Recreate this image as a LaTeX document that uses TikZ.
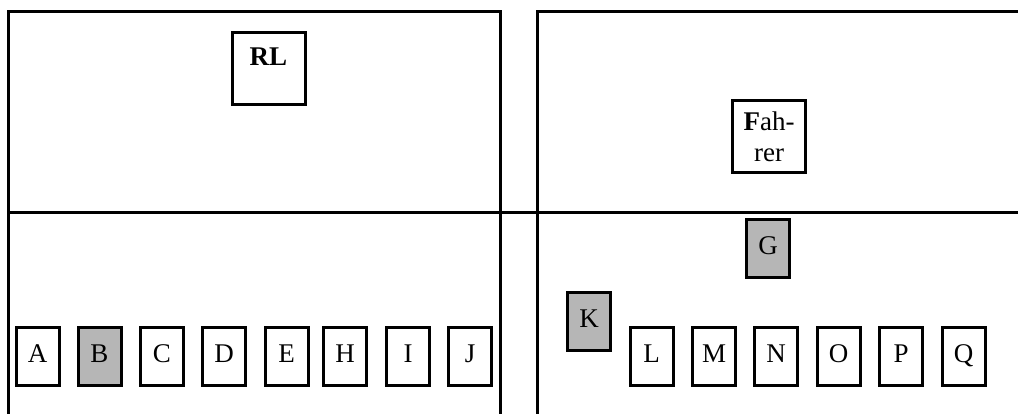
\documentclass[tikz,border=0pt]{standalone}
\usepackage{fontspec}
\setmainfont{Liberation Serif}
\definecolor{boxgrey}{RGB}{182,182,182}
\begin{document}
\begin{tikzpicture}[x=1pt,y=-1pt,
  frame/.style={line width=3pt},
  letterbox/.style={draw, line width=3pt, rectangle, inner sep=0pt,
    minimum width=43pt, minimum height=58pt, text height=17pt, text depth=6pt,
    font=\fontsize{27}{32}\selectfont},
  greybox/.style={letterbox, fill=boxgrey},
  bigbox/.style={draw, line width=3pt, rectangle, inner sep=0pt,
    minimum width=73pt, minimum height=72pt,
    font=\fontsize{27}{31}\selectfont}]
\clip (0,0) rectangle (1018,414);
\fill[white] (0,0) rectangle (1018,414);
% panels
\draw[frame] (8,430) -- (8,12) -- (500,12) -- (500,430);
\draw[frame] (537,430) -- (537,12) -- (1030,12);
\draw[frame] (8,213) -- (1030,213);
% top boxes
\node[bigbox, text height=19pt, text depth=26pt] (RL) at (268.5,69) {\textbf{RL}};
\node[bigbox, align=center] (Fahrer) at (769,137) {\textbf{F}ah-\\rer};
% left row
\node[letterbox] (A) at (37.5,356.5) {A};
\node[greybox]   (B) at (99.5,356.5) {B};
\node[letterbox] (C) at (162,356.5) {C};
\node[letterbox] (D) at (224,356.5) {D};
\node[letterbox] (E) at (286.5,356.5) {E};
\node[letterbox] (H) at (345,356.5) {H};
\node[letterbox] (I) at (408,356.5) {I};
\node[letterbox] (J) at (470,356.5) {J};
% right side
\node[greybox]   (G) at (768,249) {G};
\node[greybox]   (K) at (589,321.5) {K};
\node[letterbox] (L) at (651.5,356.5) {L};
\node[letterbox] (M) at (714,356.5) {M};
\node[letterbox] (N) at (776,356.5) {N};
\node[letterbox] (O) at (838.5,356.5) {O};
\node[letterbox] (P) at (901,356.5) {P};
\node[letterbox] (Q) at (963.5,356.5) {Q};
\end{tikzpicture}
\end{document}
